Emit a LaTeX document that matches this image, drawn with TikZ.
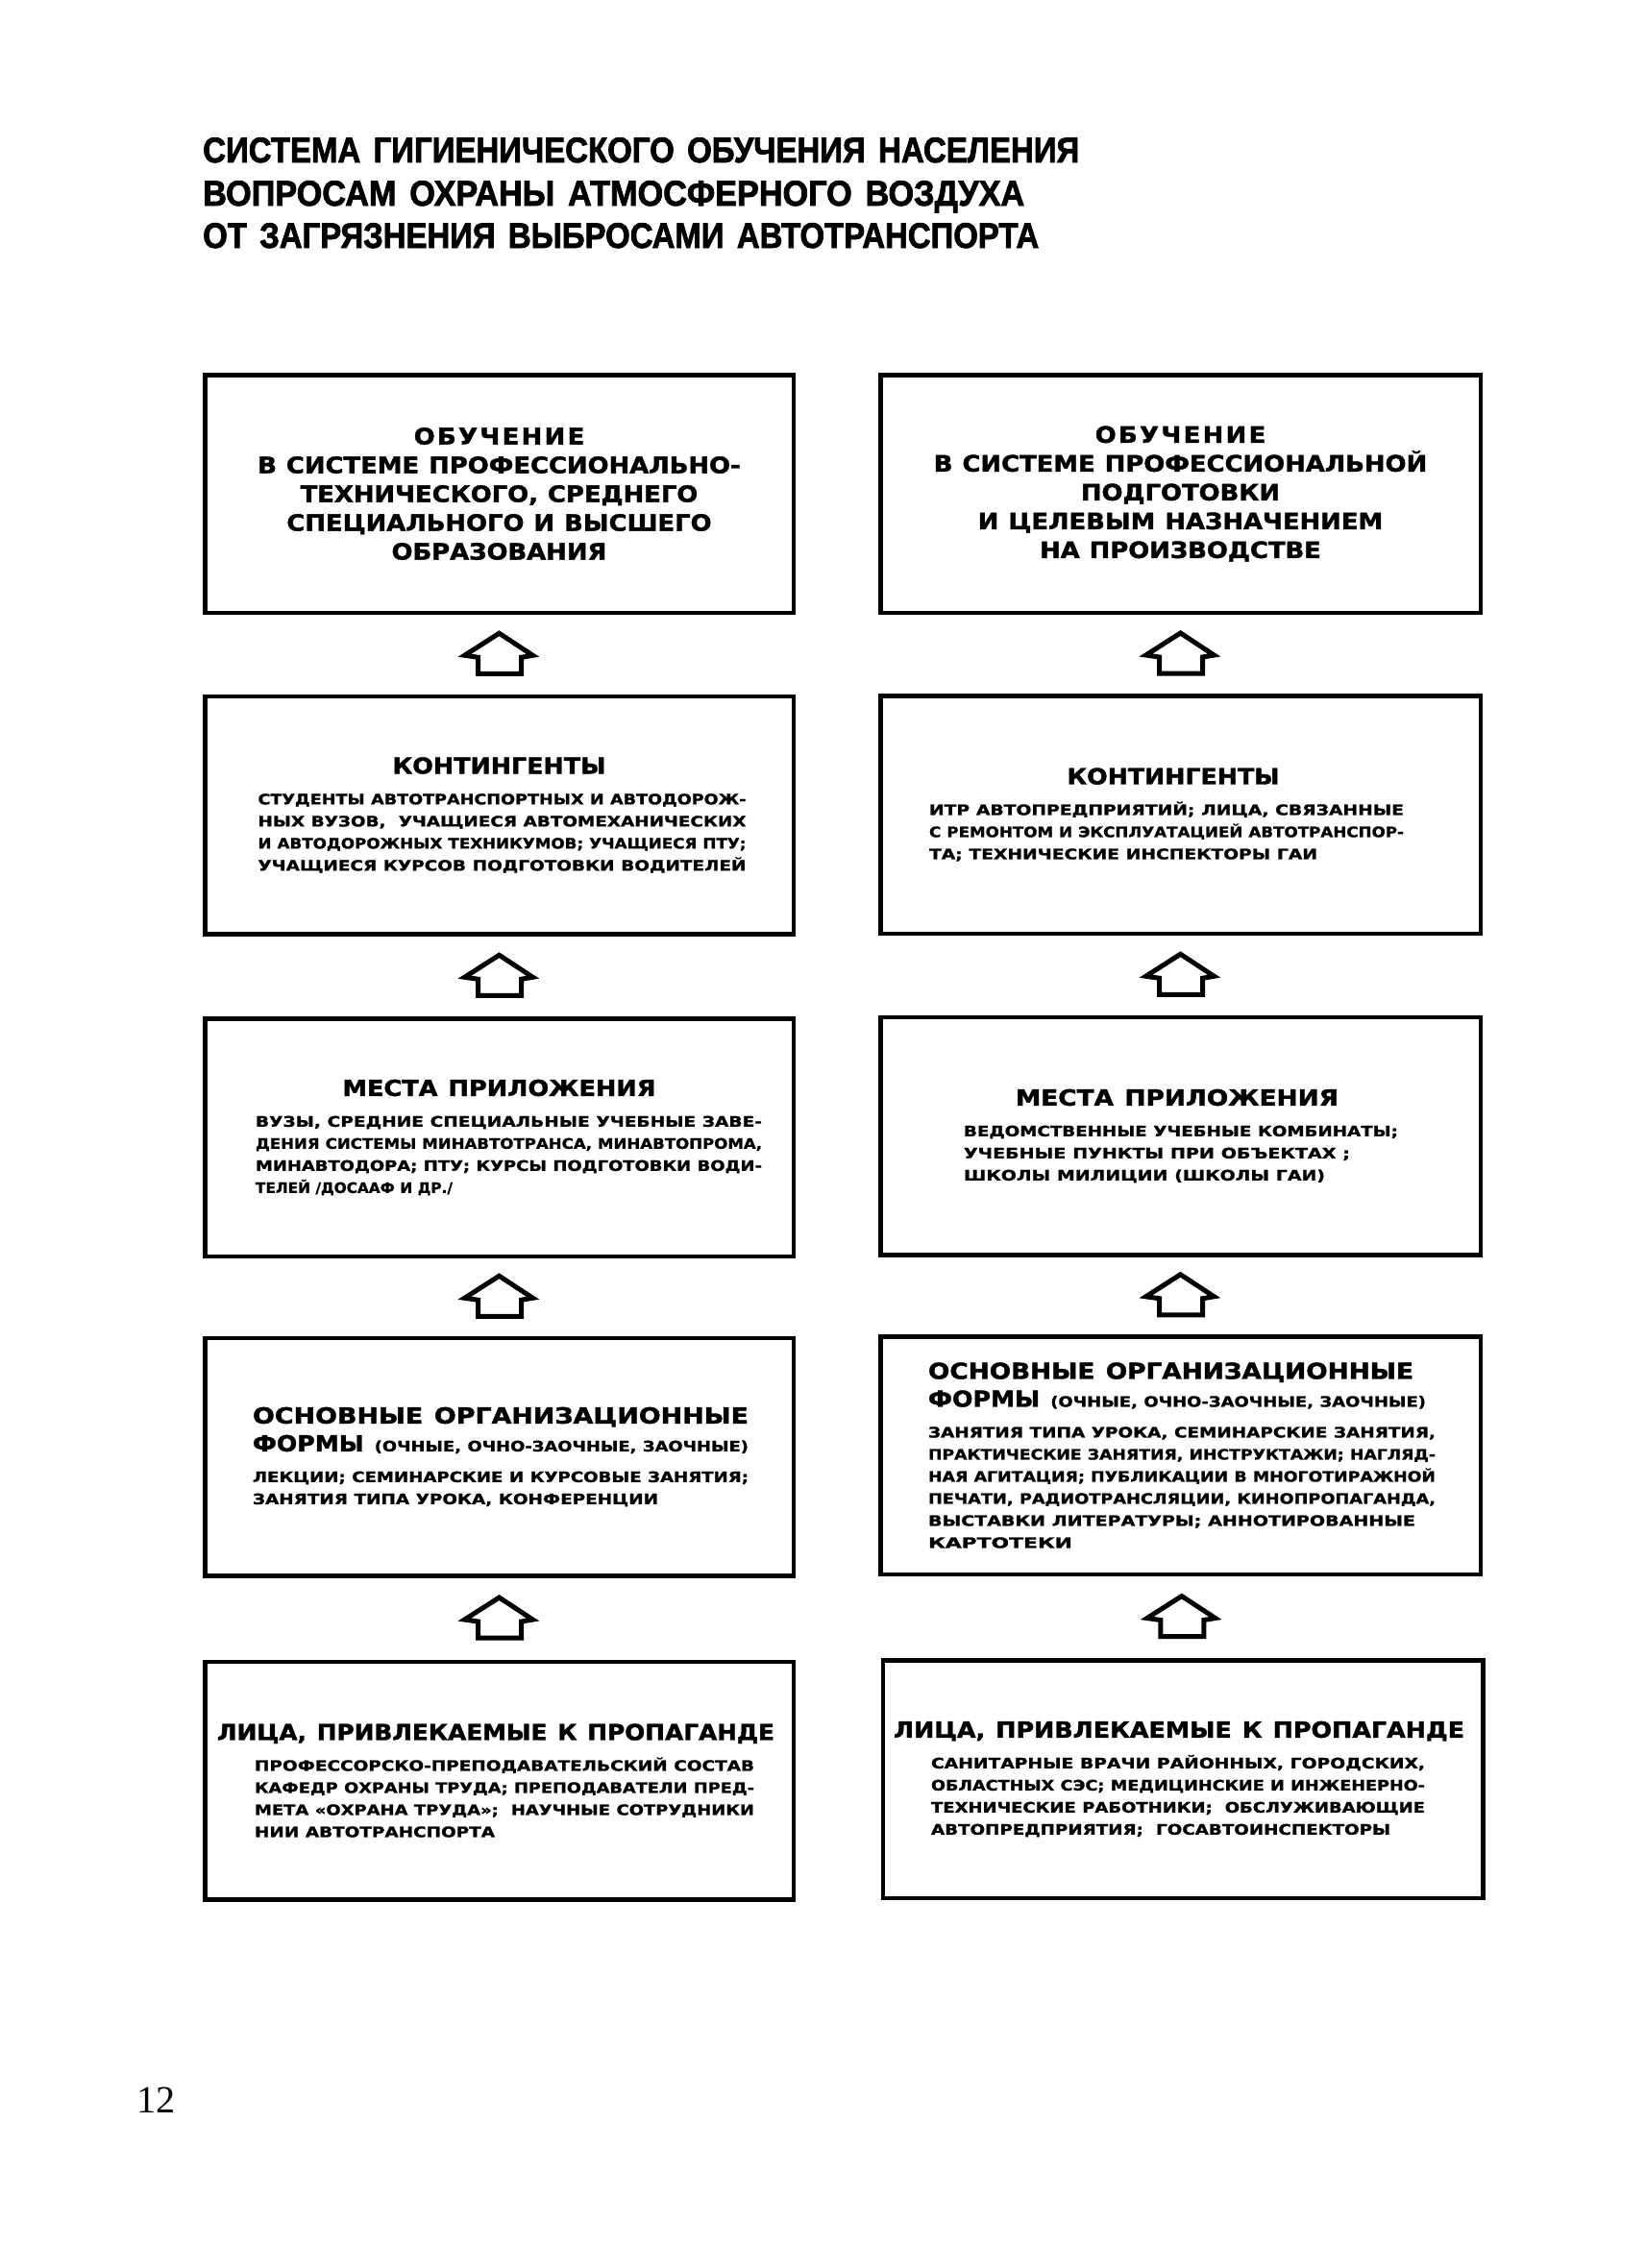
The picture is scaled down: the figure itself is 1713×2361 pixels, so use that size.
\documentclass[tikz,border=0pt]{standalone}
\usepackage{fontspec}
\usepackage{graphicx}
\usetikzlibrary{calc}
\newfontfamily\titlefont[FakeBold=2.2]{Liberation Sans}
\newfontfamily\hfont[FakeStretch=1.1,FakeBold=1.6]{DejaVu Sans}
\newfontfamily\sfont[FakeStretch=1.2,FakeBold=1.3]{DejaVu Sans}
\newfontfamily\numfont{Liberation Serif}
\newsavebox\fitbox
\newcommand\FitW[2]{\sbox\fitbox{#2}\pgfmathsetmacro\fitf{(#1)/(\the\wd\fitbox)}\scalebox{\fitf}[1]{\usebox\fitbox}}
\newcommand\HSet{\hfont\bfseries\fontsize{23}{30}\selectfont\spaceskip=11pt\relax}
\newcommand\SSet{\sfont\bfseries\fontsize{15}{23}\selectfont\spaceskip=6.5pt\relax}
% centered heading fitted to a width
\newcommand\HC[3][0pt]{{\HSet\makebox[\hsize]{\kern#1\relax\FitW{#2}{#3}\kern-#1\relax}\par}}
% left heading fitted to width
\newcommand\HF[2][\hsize]{{\HSet\makebox[\hsize][l]{\FitW{#1}{#2}}\par}}
% ФОРМЫ line
\newcommand\FM[2][\hsize]{{\HSet\fontsize{23}{29}\selectfont\makebox[\hsize][l]{\FitW{#1}{ФОРМЫ {\SSet #2}}}\par}}
% sub text lines
\newcommand\SF[2][\hsize]{{\SSet\makebox[\hsize][l]{\FitW{#1}{#2}}\par}}
\newcommand\Gap{\vspace{9pt}}
\tikzset{
  boxL/.style={draw, line width=4.5pt, minimum width=612.5pt, minimum height=247.5pt, inner sep=0pt},
  boxR/.style={boxL, minimum width=624.5pt},
  txt/.style={inner sep=0pt, align=left, execute at begin node={\parindent=0pt\parskip=0pt}},
  ctxt/.style={inner sep=0pt, align=center, font=\hfont\bfseries\fontsize{23.5}{30}\selectfont, execute at begin node={\spaceskip=10pt\relax}},
  titletxt/.style={anchor=base west, inner sep=0pt, font=\titlefont\bfseries\fontsize{37}{40}\selectfont, execute at begin node={\spaceskip=15pt\relax}},
  house/.pic={\draw[line width=5pt] (0,-22) -- (35,1) -- (23,3) -- (23,20) -- (-22,20) -- (-22,3) -- (-36,1) -- cycle;}
}
\begin{document}
\begin{tikzpicture}[x=1pt,y=-1pt]
\fill[white] (0,0) rectangle (1713,2361);
\useasboundingbox (0,0) rectangle (1713,2361);

% title
\node[titletxt] (T1) at (211,169) {\FitW{912pt}{СИСТЕМА ГИГИЕНИЧЕСКОГО ОБУЧЕНИЯ НАСЕЛЕНИЯ}};
\node[titletxt] (T2) at (211,214) {\FitW{855pt}{ВОПРОСАМ ОХРАНЫ АТМОСФЕРНОГО ВОЗДУХА}};
\node[titletxt] (T3) at (211,258) {\FitW{870pt}{ОТ ЗАГРЯЗНЕНИЯ ВЫБРОСАМИ АВТОТРАНСПОРТА}};

% boxes
\node[boxL] (L1) at (519.5,514) {};
\node[boxR] (R1) at (1228.5,514) {};
\node[boxL] (L2) at (519.5,848.5) {};
\node[boxR] (R2) at (1228.5,848) {};
\node[boxL] (L3) at (519.5,1184) {};
\node[boxR] (R3) at (1228.5,1182.5) {};
\node[boxL] (L4) at (519.5,1516.5) {};
\node[boxR] (R4) at (1228.5,1515) {};
\node[boxL] (L5) at (519.5,1853.5) {};
\node[boxR] (R5) at (1231,1852) {};

% row 1
\node[ctxt] (L1t) at (L1.center) {{\addfontfeature{LetterSpace=10}ОБУЧЕНИЕ}\\В СИСТЕМЕ ПРОФЕССИОНАЛЬНО-\\ТЕХНИЧЕСКОГО, СРЕДНЕГО\\СПЕЦИАЛЬНОГО И ВЫСШЕГО\\ОБРАЗОВАНИЯ};
\node[ctxt] (R1t) at (R1.center) {{\addfontfeature{LetterSpace=10}ОБУЧЕНИЕ}\\В СИСТЕМЕ ПРОФЕССИОНАЛЬНОЙ\\ПОДГОТОВКИ\\И ЦЕЛЕВЫМ НАЗНАЧЕНИЕМ\\НА ПРОИЗВОДСТВЕ};

% row 2
\node[txt, text width=508pt] (L2t) at ([xshift=3pt]L2.center) {%
\HC[-3pt]{222pt}{КОНТИНГЕНТЫ}\Gap
\SF{СТУДЕНТЫ АВТОТРАНСПОРТНЫХ И АВТОДОРОЖ-}
\SF{НЫХ ВУЗОВ, \ УЧАЩИЕСЯ АВТОМЕХАНИЧЕСКИХ}
\SF{И АВТОДОРОЖНЫХ ТЕХНИКУМОВ; УЧАЩИЕСЯ ПТУ;}
\SF{УЧАЩИЕСЯ КУРСОВ ПОДГОТОВКИ ВОДИТЕЛЕЙ}};
\node[txt, text width=494pt] (R2t) at ([xshift=-14.5pt]R2.center) {%
\HC[7pt]{221pt}{КОНТИНГЕНТЫ}\Gap
\SF{ИТР АВТОПРЕДПРИЯТИЙ; ЛИЦА, СВЯЗАННЫЕ}
\SF{С РЕМОНТОМ И ЭКСПЛУАТАЦИЕЙ АВТОТРАНСПОР-}
\SF[404pt]{ТА; ТЕХНИЧЕСКИЕ ИНСПЕКТОРЫ ГАИ}};

% row 3
\node[txt, text width=527pt] (L3t) at ([xshift=10pt]L3.center) {%
\HC[-10pt]{326pt}{МЕСТА ПРИЛОЖЕНИЯ}\Gap
\SF{ВУЗЫ, СРЕДНИЕ СПЕЦИАЛЬНЫЕ УЧЕБНЫЕ ЗАВЕ-}
\SF{ДЕНИЯ СИСТЕМЫ МИНАВТОТРАНСА, МИНАВТОПРОМА,}
\SF{МИНАВТОДОРА; ПТУ; КУРСЫ ПОДГОТОВКИ ВОДИ-}
\SF[205pt]{ТЕЛЕЙ /ДОСААФ И ДР./}};
\node[txt, text width=452pt] (R3t) at ([xshift=0.5pt]R3.center) {%
\HC[-4pt]{336pt}{МЕСТА ПРИЛОЖЕНИЯ}\Gap
\SF{ВЕДОМСТВЕННЫЕ УЧЕБНЫЕ КОМБИНАТЫ;}
\SF[402pt]{УЧЕБНЫЕ ПУНКТЫ ПРИ ОБЪЕКТАХ ;}
\SF[376pt]{ШКОЛЫ МИЛИЦИИ (ШКОЛЫ ГАИ)}};

% row 4
\node[txt, text width=516pt] (L4t) at ([xshift=1.5pt]L4.center) {%
\HF{ОСНОВНЫЕ ОРГАНИЗАЦИОННЫЕ}
\FM{(ОЧНЫЕ, ОЧНО-ЗАОЧНЫЕ, ЗАОЧНЫЕ)}\Gap
\SF{ЛЕКЦИИ; СЕМИНАРСКИЕ И КУРСОВЫЕ ЗАНЯТИЯ;}
\SF[422pt]{ЗАНЯТИЯ ТИПА УРОКА, КОНФЕРЕНЦИИ}};
\node[txt, text width=528pt] (R4t) at ([xshift=1.5pt]R4.center) {%
\HF[505pt]{ОСНОВНЫЕ ОРГАНИЗАЦИОННЫЕ}
\FM[518pt]{(ОЧНЫЕ, ОЧНО-ЗАОЧНЫЕ, ЗАОЧНЫЕ)}\Gap
\SF{ЗАНЯТИЯ ТИПА УРОКА, СЕМИНАРСКИЕ ЗАНЯТИЯ,}
\SF{ПРАКТИЧЕСКИЕ ЗАНЯТИЯ, ИНСТРУКТАЖИ; НАГЛЯД-}
\SF{НАЯ АГИТАЦИЯ; ПУБЛИКАЦИИ В МНОГОТИРАЖНОЙ}
\SF{ПЕЧАТИ, РАДИОТРАНСЛЯЦИИ, КИНОПРОПАГАНДА,}
\SF[507pt]{ВЫСТАВКИ ЛИТЕРАТУРЫ; АННОТИРОВАННЫЕ}
\SF[150pt]{КАРТОТЕКИ}};

% row 5
\node[txt, text width=520pt] (L5t) at ([xshift=5.5pt]L5.center) {%
\HC[-9pt]{580pt}{ЛИЦА, ПРИВЛЕКАЕМЫЕ К ПРОПАГАНДЕ}\Gap
\SF{ПРОФЕССОРСКО-ПРЕПОДАВАТЕЛЬСКИЙ СОСТАВ}
\SF{КАФЕДР ОХРАНЫ ТРУДА; ПРЕПОДАВАТЕЛИ ПРЕД-}
\SF{МЕТА «ОХРАНА ТРУДА»; \ НАУЧНЫЕ СОТРУДНИКИ}
\SF[250pt]{НИИ АВТОТРАНСПОРТА}};
\node[txt, text width=514pt] (R5t) at ([xshift=-5pt]R5.center) {%
\HC[1pt]{594pt}{ЛИЦА, ПРИВЛЕКАЕМЫЕ К ПРОПАГАНДЕ}\Gap
\SF{САНИТАРНЫЕ ВРАЧИ РАЙОННЫХ, ГОРОДСКИХ,}
\SF{ОБЛАСТНЫХ СЭС; МЕДИЦИНСКИЕ И ИНЖЕНЕРНО-}
\SF{ТЕХНИЧЕСКИЕ РАБОТНИКИ; \ ОБСЛУЖИВАЮЩИЕ}
\SF[478pt]{АВТОПРЕДПРИЯТИЯ; \ ГОСАВТОИНСПЕКТОРЫ}};

% arrows
\pic at ($(L1.south)!0.5!(L2.north)$) {house};
\pic at ($(L2.south)!0.5!(L3.north)$) {house};
\pic at ($(L3.south)!0.5!(L4.north)$) {house};
\pic at ($(L4.south)!0.5!(L5.north)$) {house};
\pic at ($(R1.south)!0.5!(R2.north)$) {house};
\pic at ($(R2.south)!0.5!(R3.north)$) {house};
\pic at ($(R3.south)!0.5!(R4.north)$) {house};
\pic at ($(R4.south)!0.5!(R5.north)$) {house};

% page number
\node[anchor=base west, inner sep=0pt, font=\numfont\fontsize{40}{44}\selectfont] (pg) at (142,2199) {12};
\end{tikzpicture}
\end{document}
